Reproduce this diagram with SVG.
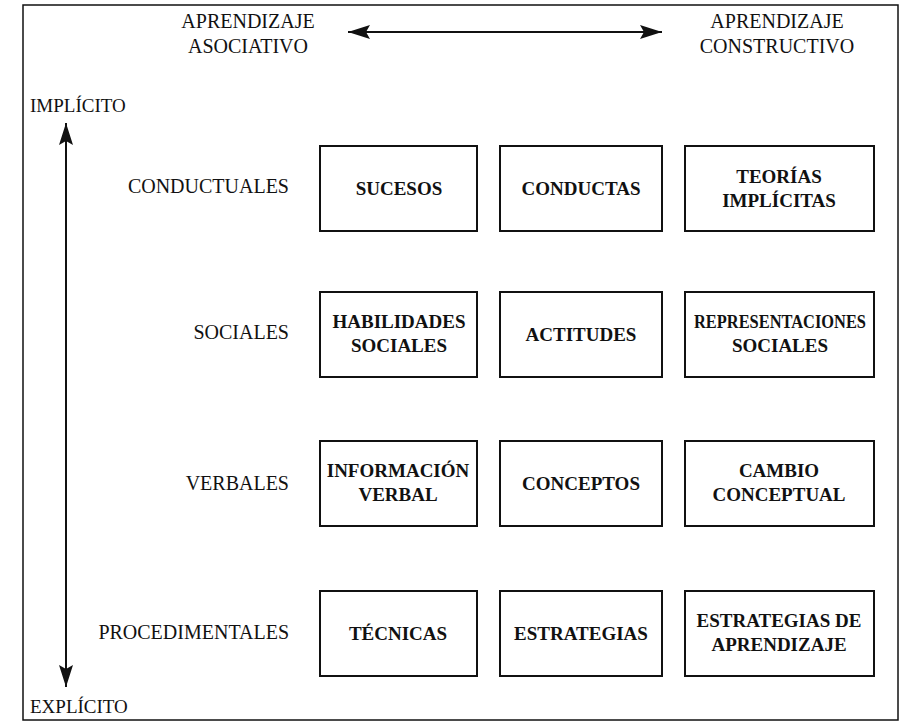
<svg xmlns="http://www.w3.org/2000/svg" width="904" height="723" viewBox="0 0 904 723">
  <style>
    .frame { fill: none; stroke: #111; stroke-width: 1.5; }
    .box { fill: #fff; stroke: #111; stroke-width: 2; }
    .bt { font-family: 'Liberation Serif', 'Times New Roman', Times, 'DejaVu Serif', serif; font-weight: bold; font-size: 19px; fill: #111; text-anchor: middle; }
    .lbl { font-family: 'Liberation Serif', 'Times New Roman', Times, 'DejaVu Serif', serif; font-size: 20px; fill: #111; }
    .conn { stroke: #111; stroke-width: 2; fill: none; }
  </style>
  <defs>
    <marker id="ah" markerUnits="userSpaceOnUse" markerWidth="23" markerHeight="14" refX="22" refY="7" orient="auto-start-reverse" viewBox="0 0 23 14">
      <path d="M0,0 L22,7 L0,14 L4,7 z" fill="#111"/>
    </marker>
  </defs>
  <rect width="904" height="723" fill="#fff"/>
  <rect class="frame" x="23" y="5" width="875" height="715"/>

  <g id="axis-labels">
    <g id="lbl-asociativo">
      <text class="lbl" x="248" y="28" text-anchor="middle">APRENDIZAJE</text>
      <text class="lbl" x="248" y="53" text-anchor="middle">ASOCIATIVO</text>
    </g>
    <g id="lbl-constructivo">
      <text class="lbl" x="777" y="28" text-anchor="middle">APRENDIZAJE</text>
      <text class="lbl" x="777" y="53" text-anchor="middle">CONSTRUCTIVO</text>
    </g>
    <g id="lbl-implicito"><text class="lbl" x="30" y="112" style="font-size:19px">IMPLÍCITO</text></g>
    <g id="lbl-explicito"><text class="lbl" x="30" y="713" style="font-size:19px">EXPLÍCITO</text></g>
  </g>

  <g id="row-labels">
    <g id="row-conductuales"><text class="lbl" x="289" y="193" text-anchor="end">CONDUCTUALES</text></g>
    <g id="row-sociales"><text class="lbl" x="289" y="339" text-anchor="end">SOCIALES</text></g>
    <g id="row-verbales"><text class="lbl" x="289" y="490" text-anchor="end">VERBALES</text></g>
    <g id="row-procedimentales"><text class="lbl" x="289" y="639" text-anchor="end">PROCEDIMENTALES</text></g>
  </g>

  <g id="connectors">
    <line class="conn" x1="348" y1="32" x2="662" y2="32" marker-start="url(#ah)" marker-end="url(#ah)"/>
    <line class="conn" x1="66" y1="123" x2="66" y2="687" marker-start="url(#ah)" marker-end="url(#ah)"/>
  </g>

  <g id="n-sucesos">
    <rect class="box" x="320" y="146" width="157" height="85"/>
    <text class="bt" x="399" y="195">SUCESOS</text>
  </g>
  <g id="n-conductas">
    <rect class="box" x="500" y="146" width="162" height="85"/>
    <text class="bt" x="581" y="195">CONDUCTAS</text>
  </g>
  <g id="n-teorias">
    <rect class="box" x="685" y="146" width="189" height="85"/>
    <text class="bt" x="779" y="183">TEORÍAS</text>
    <text class="bt" x="779" y="207">IMPLÍCITAS</text>
  </g>

  <g id="n-habilidades">
    <rect class="box" x="320" y="292" width="157" height="85"/>
    <text class="bt" x="399" y="328">HABILIDADES</text>
    <text class="bt" x="399" y="352">SOCIALES</text>
  </g>
  <g id="n-actitudes">
    <rect class="box" x="500" y="292" width="162" height="85"/>
    <text class="bt" x="581" y="341">ACTITUDES</text>
  </g>
  <g id="n-representaciones">
    <rect class="box" x="685" y="292" width="189" height="85"/>
    <text class="bt" x="780" y="328" textLength="172" lengthAdjust="spacingAndGlyphs">REPRESENTACIONES</text>
    <text class="bt" x="780" y="352">SOCIALES</text>
  </g>

  <g id="n-informacion">
    <rect class="box" x="320" y="441" width="157" height="85"/>
    <text class="bt" x="398" y="477">INFORMACIÓN</text>
    <text class="bt" x="398" y="501">VERBAL</text>
  </g>
  <g id="n-conceptos">
    <rect class="box" x="500" y="441" width="162" height="85"/>
    <text class="bt" x="581" y="490">CONCEPTOS</text>
  </g>
  <g id="n-cambio">
    <rect class="box" x="685" y="441" width="189" height="85"/>
    <text class="bt" x="779" y="477">CAMBIO</text>
    <text class="bt" x="779" y="501">CONCEPTUAL</text>
  </g>

  <g id="n-tecnicas">
    <rect class="box" x="320" y="591" width="157" height="85"/>
    <text class="bt" x="398" y="640">TÉCNICAS</text>
  </g>
  <g id="n-estrategias">
    <rect class="box" x="500" y="591" width="162" height="85"/>
    <text class="bt" x="581" y="640">ESTRATEGIAS</text>
  </g>
  <g id="n-estrategias-aprendizaje">
    <rect class="box" x="685" y="591" width="189" height="85"/>
    <text class="bt" x="779" y="627">ESTRATEGIAS DE</text>
    <text class="bt" x="779" y="651">APRENDIZAJE</text>
  </g>
</svg>
